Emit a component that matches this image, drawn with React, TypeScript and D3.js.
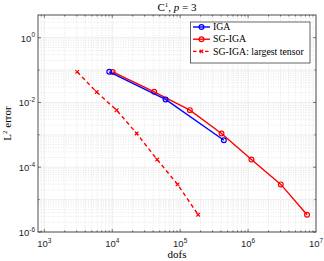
import React, {useEffect, useRef} from 'react'
import * as d3 from 'd3'

const igaDofs = [9040, 61000, 440000]
const igaErr = [0.0885, 0.0124, 6.8e-4]

const sgDofs = [10150, 41500, 139000, 406000, 1120000, 3030000, 7380000]
const sgErr = [0.0875, 0.0213, 0.00578, 0.0011, 1.72e-4, 2.95e-5, 3.41e-6]

const tensorDofs = [3050, 5900, 11600, 22900, 45900, 91600, 184000]
const tensorErr = [0.088, 0.0209, 0.00578, 0.0011, 1.72e-4, 2.95e-5, 3.41e-6]

const xTickExp = [3, 4, 5, 6, 7]
const yTickExp = [0, -2, -4, -6]

const legendLabels = ['IGA', 'SG-IGA', 'SG-IGA: largest tensor']

const W = 324
const H = 261

const App: React.FC = () => {
    const svgRef = useRef<SVGSVGElement>(null)

    useEffect(() => {
        const svg = d3.select(svgRef.current)
        svg.selectAll('*').remove()

        const left = 38, right = 316, top = 15, bottom = 232
        const x = d3.scaleLog().domain([Math.pow(10, 2.907), 1e7]).range([left, right])
        const y = d3.scaleLog().domain([1e-6, Math.pow(10, 0.7)]).range([bottom, top])

        svg.append('rect').attr('x', left).attr('y', top)
            .attr('width', right - left).attr('height', bottom - top).attr('fill', '#fff')

        const grid = svg.append('g')
        // minor grid
        for (let e = 2; e <= 6; e++) {
            for (let m = 2; m <= 9; m++) {
                const v = m * Math.pow(10, e)
                if (v < x.domain()[0] || v > 1e7) continue
                grid.append('line').attr('x1', x(v)).attr('x2', x(v)).attr('y1', top).attr('y2', bottom)
                    .attr('stroke', '#d8d8d8').attr('stroke-width', 0.6).attr('stroke-dasharray', '1,1.5')
            }
        }
        for (let e = -6; e <= 0; e++) {
            for (let m = 2; m <= 9; m++) {
                const v = m * Math.pow(10, e)
                if (v > y.domain()[1]) continue
                grid.append('line').attr('y1', y(v)).attr('y2', y(v)).attr('x1', left).attr('x2', right)
                    .attr('stroke', '#d8d8d8').attr('stroke-width', 0.6).attr('stroke-dasharray', '1,1.5')
            }
        }
        xTickExp.forEach(e => {
            grid.append('line').attr('x1', x(Math.pow(10, e))).attr('x2', x(Math.pow(10, e)))
                .attr('y1', top).attr('y2', bottom).attr('stroke', '#e6e6e6').attr('stroke-width', 0.7)
        })
        for (let e = -6; e <= 0; e++) {
            grid.append('line').attr('y1', y(Math.pow(10, e))).attr('y2', y(Math.pow(10, e)))
                .attr('x1', left).attr('x2', right).attr('stroke', '#e6e6e6').attr('stroke-width', 0.7)
        }

        // axis box and ticks
        const axis = svg.append('g').attr('stroke', '#262626').attr('fill', 'none')
        axis.append('rect').attr('x', left).attr('y', top)
            .attr('width', right - left).attr('height', bottom - top).attr('stroke-width', 0.8)
        for (let e = 2; e <= 6; e++) {
            for (let m = 1; m <= 9; m++) {
                const v = m * Math.pow(10, e)
                if (v < x.domain()[0] || v > 1e7) continue
                const len = m === 1 ? 3 : 1.6
                axis.append('line').attr('x1', x(v)).attr('x2', x(v)).attr('y1', bottom).attr('y2', bottom - len).attr('stroke-width', 0.6)
                axis.append('line').attr('x1', x(v)).attr('x2', x(v)).attr('y1', top).attr('y2', top + len).attr('stroke-width', 0.6)
            }
        }
        for (let e = -6; e <= 0; e++) {
            const len = e % 2 === 0 ? 3 : 1.6
            axis.append('line').attr('y1', y(Math.pow(10, e))).attr('y2', y(Math.pow(10, e)))
                .attr('x1', left).attr('x2', left + len).attr('stroke-width', 0.6)
            axis.append('line').attr('y1', y(Math.pow(10, e))).attr('y2', y(Math.pow(10, e)))
                .attr('x1', right).attr('x2', right - len).attr('stroke-width', 0.6)
        }

        const sans = 'Liberation Sans, Arial, sans-serif'
        const serif = "'Liberation Serif', 'DejaVu Serif', serif"

        xTickExp.forEach(e => {
            const t = svg.append('text').attr('x', x(Math.pow(10, e))).attr('y', 247)
                .attr('text-anchor', 'middle').attr('font-family', sans).attr('font-size', 9.5).attr('fill', '#262626')
            t.append('tspan').text('10')
            t.append('tspan').attr('dy', -4.5).attr('font-size', 6.5).text(String(e))
        })
        yTickExp.forEach(e => {
            const t = svg.append('text').attr('x', 35).attr('y', y(Math.pow(10, e)) + 4)
                .attr('text-anchor', 'end').attr('font-family', sans).attr('font-size', 9.5).attr('fill', '#262626')
            t.append('tspan').text('10')
            t.append('tspan').attr('dy', -4.5).attr('font-size', 6.5).text(String(e))
        })

        // title
        const title = svg.append('text').attr('x', (left + right) / 2).attr('y', 10.5)
            .attr('text-anchor', 'middle').attr('font-family', serif).attr('font-size', 11).attr('fill', '#000')
        title.append('tspan').text('C')
        title.append('tspan').attr('dy', -4).attr('font-size', 7).text('1')
        title.append('tspan').attr('dy', 4).text(', ')
        title.append('tspan').attr('font-style', 'italic').text('p')
        title.append('tspan').text(' = 3')

        svg.append('text').attr('x', (left + right) / 2).attr('y', 258)
            .attr('text-anchor', 'middle').attr('font-family', serif).attr('font-size', 11).text('dofs')

        const yl = svg.append('text').attr('transform', `translate(11,${(top + bottom) / 2}) rotate(-90)`)
            .attr('text-anchor', 'middle').attr('font-family', serif).attr('font-size', 11)
        yl.append('tspan').text('L')
        yl.append('tspan').attr('dy', -4).attr('font-size', 7).text('2')
        yl.append('tspan').attr('dy', 4).text(' error')

        const line = d3.line<[number, number]>().x(d => x(d[0])).y(d => y(d[1]))
        const plot = svg.append('g')

        const series = [
            {dofs: tensorDofs, err: tensorErr, color: '#ff0000', dash: '4,3', marker: 'x'},
            {dofs: sgDofs, err: sgErr, color: '#ff0000', dash: null, marker: 'o'},
            {dofs: igaDofs, err: igaErr, color: '#0000ff', dash: null, marker: 'o'},
        ]

        const drawMarker = (g: any, cx: number, cy: number, color: string, marker: string) => {
            if (marker === 'o') {
                g.append('circle').attr('cx', cx).attr('cy', cy).attr('r', 2.4)
                    .attr('fill', 'none').attr('stroke', color).attr('stroke-width', 1.2)
            } else {
                const s = 1.8
                g.append('path').attr('d', `M${cx - s},${cy - s}L${cx + s},${cy + s}M${cx - s},${cy + s}L${cx + s},${cy - s}`)
                    .attr('stroke', color).attr('stroke-width', 1.2)
            }
        }

        series.forEach(s => {
            const pts = s.dofs.map((d, i) => [d, s.err[i]] as [number, number])
            plot.append('path').attr('d', line(pts)!).attr('fill', 'none')
                .attr('stroke', s.color).attr('stroke-width', 1.4)
                .attr('stroke-dasharray', s.dash ?? null)
            pts.forEach(p => drawMarker(plot, x(p[0]), y(p[1]), s.color, s.marker))
        })

        // legend
        const lg = svg.append('g')
        lg.append('rect').attr('x', 190.5).attr('y', 22).attr('width', 119.5).attr('height', 41)
            .attr('fill', '#fff').attr('stroke', '#262626').attr('stroke-width', 0.7)
        const legendSeries = [series[2], series[1], series[0]]
        legendLabels.forEach((lab, i) => {
            const ly = 27 + i * 12.2
            const s = legendSeries[i]
            lg.append('line').attr('x1', 193).attr('x2', 210).attr('y1', ly).attr('y2', ly)
                .attr('stroke', s.color).attr('stroke-width', 1.4).attr('stroke-dasharray', s.dash ? '3.5,2.5' : null)
            drawMarker(lg, 201.5, ly, s.color, s.marker)
            lg.append('text').attr('x', 213).attr('y', ly + 3.2).attr('font-family', serif)
                .attr('font-size', 9.8).attr('fill', '#000').text(lab)
        })
    }, [])

    return <svg ref={svgRef} width={W} height={H} style={{position: 'absolute', left: 0, top: 0}} />
}

export default App
